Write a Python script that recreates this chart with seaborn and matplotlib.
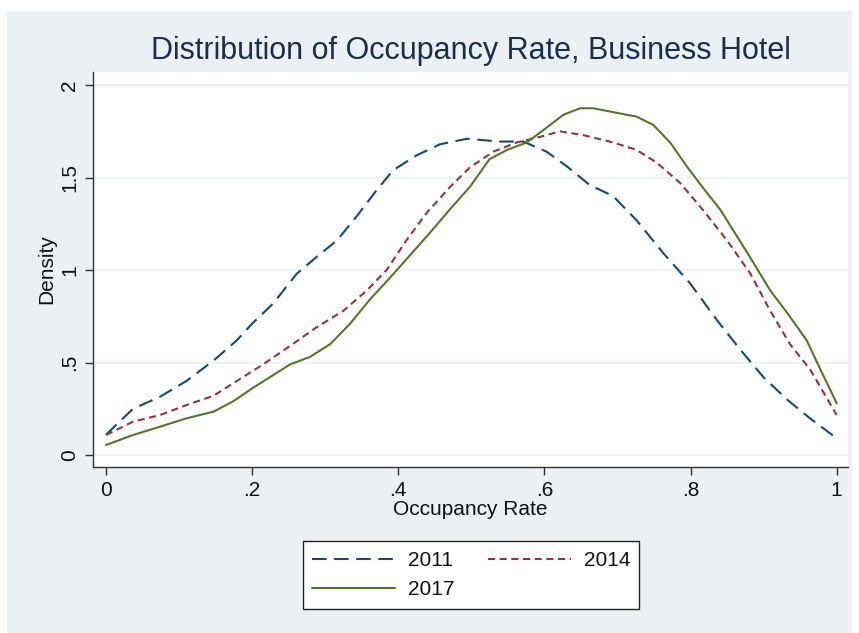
import numpy as np
import pandas as pd
import seaborn as sns
import matplotlib.pyplot as plt
from matplotlib.patches import Rectangle
from matplotlib.lines import Line2D

# kernel density curves
x_2011 = [0.0, 0.037, 0.074, 0.11, 0.147, 0.179, 0.2, 0.229, 0.261, 0.288, 0.316, 0.343,
          0.37, 0.393, 0.425, 0.457, 0.494, 0.539, 0.571, 0.603, 0.631, 0.662, 0.694,
          0.726, 0.763, 0.799, 0.836, 0.868, 0.9, 0.932, 0.963, 1.0]
y_2011 = [0.11, 0.25, 0.315, 0.4, 0.51, 0.62, 0.71, 0.82, 0.98, 1.07, 1.16, 1.29,
          1.43, 1.54, 1.62, 1.68, 1.71, 1.695, 1.695, 1.64, 1.56, 1.46, 1.40,
          1.27, 1.09, 0.93, 0.73, 0.57, 0.42, 0.30, 0.20, 0.09]

x_2014 = [0.0, 0.037, 0.074, 0.11, 0.147, 0.179, 0.215, 0.252, 0.288, 0.325, 0.357, 0.384,
          0.411, 0.439, 0.471, 0.498, 0.53, 0.562, 0.594, 0.621, 0.653, 0.694, 0.726,
          0.754, 0.786, 0.818, 0.85, 0.882, 0.909, 0.936, 0.964, 1.0]
y_2014 = [0.108, 0.18, 0.216, 0.27, 0.32, 0.40, 0.49, 0.59, 0.69, 0.78, 0.89, 1.0,
          1.16, 1.31, 1.45, 1.555, 1.64, 1.69, 1.72, 1.75, 1.73, 1.69, 1.65,
          1.58, 1.47, 1.32, 1.16, 0.98, 0.78, 0.60, 0.46, 0.216]

x_2017 = [0.0, 0.037, 0.074, 0.11, 0.147, 0.174, 0.2, 0.224, 0.252, 0.279, 0.307, 0.334,
          0.361, 0.389, 0.416, 0.443, 0.471, 0.498, 0.525, 0.549, 0.576, 0.603, 0.626,
          0.649, 0.667, 0.699, 0.726, 0.749, 0.772, 0.795, 0.818, 0.841, 0.864, 0.886,
          0.909, 0.932, 0.959, 0.978, 1.0]
y_2017 = [0.054, 0.108, 0.153, 0.198, 0.234, 0.29, 0.36, 0.42, 0.49, 0.53, 0.60, 0.71,
          0.84, 0.96, 1.08, 1.20, 1.33, 1.45, 1.60, 1.65, 1.69, 1.77, 1.84,
          1.875, 1.875, 1.85, 1.83, 1.785, 1.69, 1.56, 1.44, 1.325, 1.18, 1.04,
          0.89, 0.77, 0.62, 0.46, 0.28]

years = ["2011", "2014", "2017"]
x_ticks = [0, 0.2, 0.4, 0.6, 0.8, 1]
x_tick_labels = ["0", ".2", ".4", ".6", ".8", "1"]
y_ticks = [0, 0.5, 1, 1.5, 2]
y_tick_labels = ["0", ".5", "1", "1.5", "2"]

df = pd.concat([
    pd.DataFrame({"Occupancy Rate": x, "Density": y, "year": yr})
    for x, y, yr in zip([x_2011, x_2014, x_2017], [y_2011, y_2014, y_2017], years)
])

bg = "#EAF0F3"
sns.set_theme(style="white")
plt.rcParams["font.family"] = ["Liberation Sans", "DejaVu Sans"]

fig = plt.figure(figsize=(8.59, 6.33), dpi=100, facecolor="white")
fig.patches.append(Rectangle((7 / 859, 0), 845 / 859, 622 / 633, transform=fig.transFigure,
                             facecolor=bg, edgecolor="none", zorder=-10))
ax = fig.add_axes([93 / 859, 1 - 467 / 633, 755 / 859, 395 / 633])
ax.set_facecolor("white")

palette = {"2011": "#1a476f", "2014": "#90353b", "2017": "#55752f"}
dashes = {"2011": (7.0, 3.6), "2014": (3.4, 2.2), "2017": ""}
sns.lineplot(data=df, x="Occupancy Rate", y="Density", hue="year", style="year",
             palette=palette, dashes=dashes, estimator=None, sort=False,
             linewidth=1.5, ax=ax, legend=False)

ax.set_xlim(-0.0178, 1.0155)
ax.set_ylim(-0.065, 2.071)
ax.set_xticks(x_ticks)
ax.set_xticklabels(x_tick_labels)
ax.set_yticks(y_ticks)
ax.set_yticklabels(y_tick_labels, rotation=90, va="center")
ax.tick_params(axis="both", direction="out", length=6, width=1, color="#333333",
               labelsize=15, labelcolor="#111111", pad=4)
ax.tick_params(axis="both", which="both", bottom=True, left=True)
ax.grid(axis="y", color=bg, linewidth=1.1)
ax.set_axisbelow(True)
for side in ["top", "right"]:
    ax.spines[side].set_visible(False)
for side in ["left", "bottom"]:
    ax.spines[side].set_color("#333333")
    ax.spines[side].set_linewidth(1.0)

ax.set_xlabel("Occupancy Rate", fontsize=15, color="#111111", labelpad=0)
ax.set_ylabel("Density", fontsize=15, color="#111111", labelpad=3)
fig.text(471 / 859, 1 - 51 / 633, "Distribution of Occupancy Rate, Business Hotel",
         ha="center", va="center", fontsize=22, color="#1F2D4D")

# legend: row 1 = 2011, 2014 ; row 2 = 2017 (matplotlib fills column by column)
order = ["2011", "2017", "2014"]
handles = [Line2D([], [], color=palette[yr], linewidth=1.5,
                  linestyle=(0, dashes[yr]) if dashes[yr] else "-") for yr in order]
leg = fig.legend(handles, order, loc="center", bbox_to_anchor=(471 / 859, 1 - 575 / 633),
                 ncol=2, fontsize=15, frameon=True, fancybox=False, handlelength=4.0,
                 columnspacing=1.6, handletextpad=0.6, labelspacing=0.5,
                 borderpad=0.45, borderaxespad=0, edgecolor="#222222", facecolor="white",
                 framealpha=1)
leg.get_frame().set_linewidth(1.0)
for t in leg.get_texts():
    t.set_color("#111111")

fig.savefig("out.png", dpi=100, facecolor=fig.get_facecolor())
